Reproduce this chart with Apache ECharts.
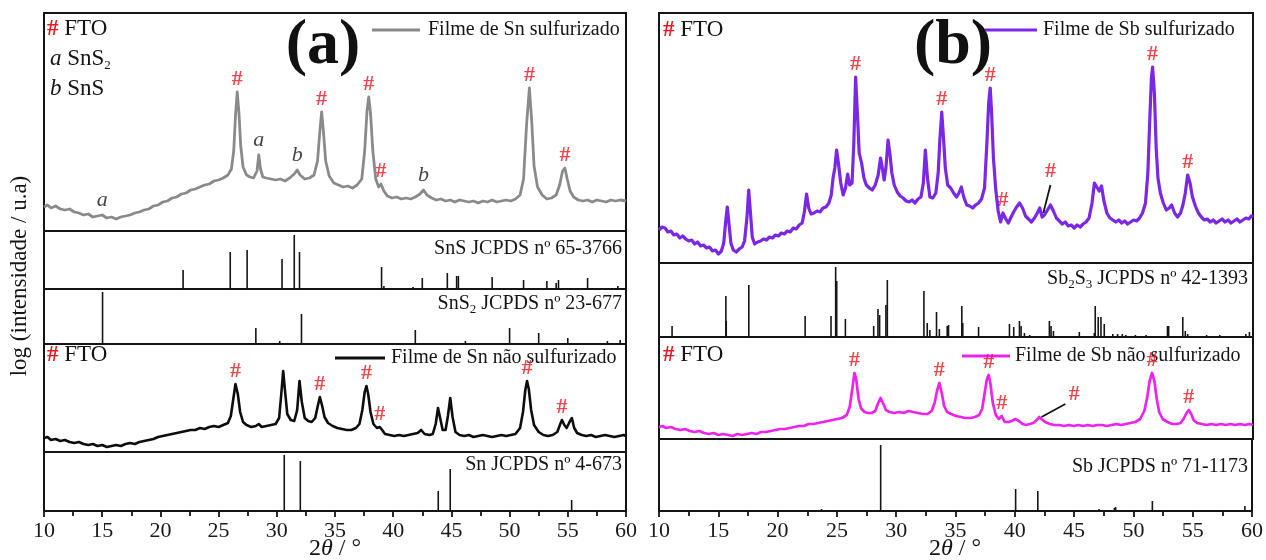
<!DOCTYPE html>
<html>
<head>
<meta charset="utf-8">
<title>DRX filmes Sn / Sb</title>
<script src="https://cdn.jsdelivr.net/npm/echarts@6/dist/echarts.min.js"></script>
<style>html,body{margin:0;padding:0;background:#fff}#main{width:1266px;height:560px}</style>
</head>
<body>
<div id="main"></div>
<script>
// ---- data: [2theta, intensity (a.u.)] ----
var snSulf = [[10,24],[10.3,26],[10.6,23],[11,25],[11.4,22],[11.8,21],[12.2,22],[12.6,19],[13,18],[13.4,16],[13.8,17],[14.2,14],[14.6,15],[15,16],[15.4,13],[15.8,14],[16.2,12],[16.6,14],[17,15],[17.4,16],[17.8,18],[18.2,19],[18.6,21],[19,22],[19.4,25],[19.8,26],[20.2,29],[20.6,30],[21,33],[21.4,34],[21.8,37],[22.2,38],[22.6,41],[23,42],[23.4,44],[23.8,46],[24.2,47],[24.6,50],[25,51],[25.4,53],[25.8,56],[26.1,62],[26.3,80],[26.45,115],[26.6,139],[26.75,118],[26.9,85],[27.1,64],[27.4,56],[27.7,54],[28,53],[28.3,60],[28.45,76],[28.6,62],[28.8,54],[29.1,53],[29.5,52],[29.9,51],[30.3,52],[30.7,50],[31.1,53],[31.5,57],[31.75,61],[32,56],[32.4,52],[32.8,53],[33.2,56],[33.5,70],[33.7,100],[33.85,119],[34,100],[34.2,70],[34.5,55],[34.9,48],[35.3,46],[35.7,44],[36.1,45],[36.5,43],[36.9,46],[37.3,52],[37.55,80],[37.75,120],[37.9,134],[38.05,118],[38.25,80],[38.5,52],[38.75,44],[38.95,47],[39.2,40],[39.5,35],[39.9,33],[40.3,34],[40.7,32],[41.1,33],[41.5,32],[41.9,34],[42.3,37],[42.6,41],[42.9,36],[43.3,33],[43.7,31],[44.1,32],[44.5,30],[44.9,31],[45.3,29],[45.7,31],[46.1,30],[46.5,29],[46.9,30],[47.3,28],[47.7,30],[48.1,29],[48.5,31],[48.9,29],[49.3,30],[49.7,31],[50.1,30],[50.5,32],[50.9,36],[51.2,52],[51.45,105],[51.7,143],[51.9,110],[52.1,65],[52.4,44],[52.8,36],[53.2,32],[53.6,33],[54,36],[54.3,46],[54.55,60],[54.75,63],[54.95,52],[55.2,40],[55.5,34],[55.9,31],[56.3,30],[56.7,31],[57.1,29],[57.5,31],[57.9,30],[58.3,29],[58.7,31],[59.1,30],[59.5,31],[60,30]];

var snNaoSulf = [[10,14],[10.3,15],[10.6,12],[11,13],[11.4,11],[11.8,12],[12.2,10],[12.6,9],[13,10],[13.4,8],[13.8,7],[14.2,8],[14.6,6],[15,7],[15.4,5],[15.8,6],[16.2,7],[16.6,6],[17,8],[17.4,9],[17.8,8],[18.2,10],[18.6,11],[19,12],[19.4,13],[19.8,15],[20.2,16],[20.6,17],[21,18],[21.4,19],[21.8,20],[22.2,21],[22.6,22],[23,22],[23.4,24],[23.8,23],[24.2,25],[24.6,26],[25,25],[25.4,27],[25.8,29],[26.05,36],[26.25,52],[26.45,68],[26.65,58],[26.85,40],[27.1,30],[27.4,27],[27.8,25],[28.2,26],[28.45,28],[28.7,25],[29.1,26],[29.5,27],[29.9,28],[30.2,34],[30.4,60],[30.55,81],[30.7,62],[30.9,38],[31.2,32],[31.5,31],[31.75,42],[31.95,71],[32.15,50],[32.4,34],[32.7,31],[33,30],[33.3,34],[33.5,45],[33.7,55],[33.9,46],[34.1,35],[34.4,29],[34.8,26],[35.2,24],[35.6,23],[36,22],[36.4,22],[36.8,24],[37.1,28],[37.35,42],[37.55,60],[37.7,66],[37.85,58],[38.05,40],[38.3,28],[38.6,24],[38.85,25],[39.05,22],[39.3,18],[39.7,17],[40.1,16],[40.5,17],[40.9,16],[41.3,17],[41.7,18],[42.1,19],[42.4,22],[42.7,18],[43.1,17],[43.4,18],[43.65,28],[43.85,44],[44.05,33],[44.25,22],[44.5,22],[44.7,36],[44.9,54],[45.1,35],[45.35,20],[45.7,17],[46.1,16],[46.5,17],[46.9,15],[47.3,16],[47.7,17],[48.1,16],[48.5,15],[48.9,16],[49.3,17],[49.7,16],[50.1,17],[50.5,18],[50.9,24],[51.15,40],[51.35,62],[51.5,71],[51.65,63],[51.85,42],[52.1,27],[52.5,20],[52.9,17],[53.3,16],[53.7,17],[54.1,20],[54.35,28],[54.5,32],[54.7,27],[54.9,24],[55.15,30],[55.35,34],[55.55,24],[55.8,19],[56.2,17],[56.6,16],[57,17],[57.4,15],[57.8,16],[58.2,17],[58.6,16],[59,15],[59.4,16],[59.8,17],[60,16]];

var sbSulf = [[10,33],[10.25,36],[10.5,35],[10.75,31],[11,32],[11.25,28],[11.5,29],[11.75,25],[12,27],[12.25,24],[12.5,22],[12.75,23],[13,19],[13.25,21],[13.5,17],[13.75,18],[14,15],[14.25,16],[14.5,12],[14.75,13],[15,9],[15.25,12],[15.45,20],[15.6,40],[15.75,56],[15.9,38],[16.05,20],[16.25,13],[16.5,11],[16.75,14],[17,16],[17.2,22],[17.4,45],[17.55,73],[17.7,50],[17.85,26],[18.05,19],[18.3,21],[18.55,22],[18.8,24],[19.05,23],[19.3,26],[19.55,25],[19.8,28],[20.05,27],[20.3,30],[20.55,29],[20.8,32],[21.05,31],[21.3,35],[21.55,34],[21.8,38],[22.05,40],[22.25,52],[22.42,69],[22.6,55],[22.8,49],[23.05,50],[23.3,52],[23.55,51],[23.8,55],[24.05,56],[24.3,60],[24.5,68],[24.65,85],[24.8,95],[24.95,113],[25.1,100],[25.3,80],[25.5,68],[25.7,75],[25.88,89],[26.05,78],[26.25,80],[26.4,120],[26.55,186],[26.7,150],[26.85,110],[27.05,100],[27.25,85],[27.45,78],[27.7,75],[27.95,73],[28.2,78],[28.45,88],[28.65,105],[28.8,95],[28.95,83],[29.1,95],[29.28,123],[29.45,108],[29.6,90],[29.8,78],[30.05,71],[30.3,67],[30.55,65],[30.8,62],[31.05,61],[31.3,63],[31.55,60],[31.8,64],[32.05,66],[32.25,80],[32.42,113],[32.6,85],[32.8,66],[33.05,65],[33.3,70],[33.5,90],[33.65,125],[33.8,151],[33.95,125],[34.1,95],[34.3,78],[34.55,75],[34.8,70],[35.05,66],[35.25,70],[35.45,76],[35.65,66],[35.9,58],[36.15,57],[36.4,55],[36.65,58],[36.9,60],[37.15,64],[37.4,75],[37.6,120],[37.75,160],[37.88,175],[38,150],[38.15,105],[38.35,73],[38.55,52],[38.75,41],[38.95,50],[39.15,45],[39.4,40],[39.6,45],[39.85,51],[40.1,56],[40.35,60],[40.6,55],[40.85,47],[41.1,44],[41.35,41],[41.6,45],[41.85,50],[42.05,55],[42.25,46],[42.45,48],[42.7,53],[42.95,58],[43.2,52],[43.45,45],[43.7,42],[43.95,39],[44.2,41],[44.45,37],[44.7,38],[44.95,35],[45.2,38],[45.45,36],[45.7,39],[45.95,41],[46.2,45],[46.45,60],[46.65,80],[46.85,76],[47.05,72],[47.25,77],[47.45,62],[47.7,50],[47.95,45],[48.2,43],[48.45,41],[48.7,43],[48.95,40],[49.2,42],[49.45,39],[49.7,41],[49.95,43],[50.2,42],[50.45,45],[50.7,50],[50.95,60],[51.15,90],[51.3,140],[51.45,185],[51.55,196],[51.7,170],[51.85,115],[52,85],[52.2,70],[52.45,60],[52.7,53],[52.95,55],[53.15,58],[53.4,50],[53.65,46],[53.9,50],[54.1,58],[54.3,70],[54.5,88],[54.7,80],[54.9,66],[55.15,57],[55.4,50],[55.65,46],[55.9,43],[56.15,44],[56.4,41],[56.65,43],[56.9,40],[57.15,42],[57.4,44],[57.65,41],[57.9,43],[58.15,40],[58.4,42],[58.65,44],[58.9,41],[59.15,43],[59.4,45],[59.65,44],[59.85,47],[60,46]];

var sbNaoSulf = [[10,12],[10.3,13],[10.6,11],[11,12],[11.4,10],[11.8,9],[12.2,10],[12.6,8],[13,7],[13.4,8],[13.8,6],[14.2,5],[14.6,6],[15,4],[15.4,5],[15.8,4],[16.2,3],[16.6,5],[17,4],[17.4,5],[17.8,6],[18.2,5],[18.6,7],[19,7],[19.4,8],[19.8,9],[20.2,10],[20.6,10],[21,11],[21.4,12],[21.8,13],[22.2,13],[22.6,15],[23,15],[23.4,16],[23.8,17],[24.2,18],[24.6,19],[25,20],[25.4,21],[25.8,24],[26.05,32],[26.25,48],[26.45,66],[26.6,60],[26.8,40],[27,31],[27.3,27],[27.6,26],[27.9,26],[28.2,28],[28.45,36],[28.65,41],[28.85,36],[29.1,29],[29.4,27],[29.8,26],[30.2,27],[30.6,26],[31,28],[31.4,27],[31.8,26],[32.2,25],[32.6,25],[32.95,28],[33.2,36],[33.4,48],[33.6,56],[33.8,46],[34,33],[34.25,27],[34.6,25],[35,23],[35.4,22],[35.8,21],[36.2,21],[36.6,22],[36.95,24],[37.2,30],[37.4,45],[37.6,60],[37.75,64],[37.9,55],[38.1,36],[38.35,24],[38.6,20],[38.85,23],[39.1,17],[39.4,17],[39.7,18],[40,20],[40.3,18],[40.6,15],[40.9,14],[41.2,15],[41.5,16],[41.8,19],[42,22],[42.2,20],[42.5,17],[42.9,15],[43.3,14],[43.7,14],[44.1,13],[44.5,14],[44.9,13],[45.3,14],[45.7,13],[46.1,14],[46.5,13],[46.9,14],[47.3,14],[47.7,13],[48.1,14],[48.5,15],[48.9,14],[49.3,15],[49.7,16],[50.1,17],[50.5,20],[50.85,28],[51.1,42],[51.3,58],[51.5,66],[51.7,58],[51.9,40],[52.1,27],[52.4,20],[52.8,17],[53.2,15],[53.6,15],[53.9,16],[54.15,20],[54.4,26],[54.6,29],[54.8,25],[55,19],[55.3,16],[55.7,15],[56.1,14],[56.5,15],[56.9,14],[57.3,15],[57.7,14],[58.1,15],[58.5,14],[58.9,15],[59.3,14],[59.7,15],[60,14]];

// JCPDS reference sticks
var snsAng = [21.95,26.0,27.45,30.45,31.5,31.95,39.0,39.2,41.7,42.5,44.65,45.45,45.6,48.5,51.2,53.2,54.0,54.2,56.7,59.3];
var snsInt = [19,37,39,30,54,37,22,3,2,11,16,13,13,12,9,8,6,9,11,3];
var sns2Ang = [15.03,28.2,30.25,32.12,41.9,46.2,50.0,52.5,55.0,58.4,59.5];
var sns2Int = [52,16,3,30,14,3,16,11,6,3,4];
var snAng = [30.64,32.02,43.87,44.9,55.33];
var snInt = [56,50,20,42,11];
var sb2s3Ang = [11.1,15.63,15.66,17.56,22.3,24.48,24.87,24.96,25.69,28.07,28.43,28.57,29.1,29.22,32.3,32.58,32.8,33.36,33.6,34.26,34.37,35.49,35.57,36.9,39.5,39.86,40.34,40.48,40.76,41.2,42.86,43.0,43.2,45.38,46.64,46.72,46.97,47.2,47.48,48.2,48.6,49.0,49.3,50.1,51.0,52.8,52.9,54.09,54.3,54.5,56.1,57.2,58.9,59.4,59.7];
var sb2s3Int = [11,41,16,52,21,21,70,56,18,11,28,22,32,57,46,14,7,25,8,11,12,31,14,10,13,10,16,11,4,2,16,11,6,5,4,31,20,20,13,3,3,3,2,2,2,11,11,20,6,3,2,2,1,3,5];
var sbAng = [23.7,28.69,40.07,41.94,47.1,48.4,48.5,51.6,59.4];
var sbInt = [2,66,22,20,2,3,4,10,5];

// peak markers
var ftoSnSulf = [26.6,33.85,37.9,38.95,51.7,54.75];
var ftoSnNao = [26.45,33.7,37.7,38.85,51.5,54.5];
var ftoSbSulf = [26.55,33.8,37.88,38.95,51.55,54.5];
var ftoSbNao = [26.45,33.6,37.75,38.85,51.5,54.6];
var fasePeaks = [15,28.45,31.75,42.6];
var faseNames = ['a','a','b','b'];

var myChart = echarts.init(document.getElementById('main'));
var FONT = 'Liberation Serif';
var RED = '#e8191f';

// panel layout (pixels)
var boxes = [
  {left:44, top:13, width:582, height:218},
  {left:44, top:231, width:582, height:58},
  {left:44, top:289, width:582, height:55},
  {left:44, top:344, width:582, height:108},
  {left:44, top:452, width:582, height:59},
  {left:659, top:13, width:594, height:250},
  {left:659, top:263, width:594, height:74},
  {left:659, top:337, width:594, height:102},
  {left:659, top:439, width:594, height:72}
];
var bottoms = [4, 8];

var grids = [], xAxes = [], yAxes = [];
boxes.forEach(function (b, i) {
  grids.push({left:b.left, top:b.top, width:b.width, height:b.height, show:true,
    borderColor:'#151515', borderWidth:2, backgroundColor:'transparent'});
  var isBottom = bottoms.indexOf(i) >= 0;
  xAxes.push({
    type:'value', gridIndex:i, min:10, max:60, interval:5, show:isBottom,
    axisLine:{show:true, onZero:false, lineStyle:{color:'#151515', width:2}},
    axisTick:{show:true, inside:false, length:6, lineStyle:{color:'#151515', width:1.8}},
    minorTick:{show:true, splitNumber:2, length:5, lineStyle:{color:'#151515', width:1.8}},
    axisLabel:{show:true, fontSize:22, fontFamily:FONT, color:'#1a1a1a', margin:9},
    splitLine:{show:false}
  });
  yAxes.push({type:'value', gridIndex:i, min:0, max:b.height, show:false, splitLine:{show:false}});
});

function curve(i, data, color, w) {
  return {type:'line', xAxisIndex:i, yAxisIndex:i, data:data, symbol:'none',
    lineStyle:{color:color, width:w, join:'round'}, silent:true};
}
function sticks(i, ang, inten) {
  return {type:'bar', xAxisIndex:i, yAxisIndex:i, barWidth:1.6, silent:true,
    itemStyle:{color:'#151515'},
    data:ang.map(function (a, k) { return [a, inten[k]]; })};
}
function peakValue(data, x) {
  var m = 0;
  data.forEach(function (p) { if (Math.abs(p[0] - x) <= 0.2 && p[1] > m) m = p[1]; });
  return m;
}
function marks(i, data, xs, texts, style) {
  return {type:'scatter', xAxisIndex:i, yAxisIndex:i, symbolSize:1, silent:true,
    itemStyle:{color:'rgba(0,0,0,0)'},
    data:xs.map(function (x, k) {
      return {value:[x, peakValue(data, x)], label:{formatter:texts ? texts[k] : '#'}};
    }),
    label:Object.assign({show:true, position:'top', distance:1, fontSize:22,
      fontWeight:'bold', fontFamily:FONT, color:RED}, style || {})};
}
function arrowMark(i, data, x, dx, dy, lblOffset) {
  var v = peakValue(data, x);
  return {type:'scatter', xAxisIndex:i, yAxisIndex:i, symbolSize:1, silent:true,
    itemStyle:{color:'rgba(0,0,0,0)'},
    data:[[x + dx, v + dy]],
    label:{show:true, formatter:'#', position:'top', distance:2, offset:lblOffset,
      fontSize:22, fontWeight:'bold', fontFamily:FONT, color:RED},
    markLine:{silent:true, symbol:['none','arrow'], symbolSize:[0,10], animation:false,
      lineStyle:{color:'#151515', width:1.8, type:'solid'}, label:{show:false},
      data:[[{coord:[x + dx, v + dy]}, {coord:[x, v + 2]}]]}};
}

var series = [
  curve(0, snSulf, '#8a8a8a', 2.8),
  marks(0, snSulf, ftoSnSulf),
  marks(0, snSulf, fasePeaks, faseNames, {color:'#151515', fontStyle:'italic', fontWeight:'normal', distance:3}),
  sticks(1, snsAng, snsInt),
  sticks(2, sns2Ang, sns2Int),
  curve(3, snNaoSulf, '#0d0d0d', 2.6),
  marks(3, snNaoSulf, ftoSnNao),
  sticks(4, snAng, snInt),
  curve(5, sbSulf, '#7a28e6', 3.2),
  marks(5, sbSulf, ftoSbSulf),
  arrowMark(5, sbSulf, 42.35, 0.6, 30, [0, 0]),
  sticks(6, sb2s3Ang, sb2s3Int),
  curve(7, sbNaoSulf, '#ee22ee', 2.7),
  marks(7, sbNaoSulf, ftoSbNao),
  arrowMark(7, sbNaoSulf, 42.2, 2.0, 15, [9, 4]),
  sticks(8, sbAng, sbInt)
];

var RICH = {
  r:{fontFamily:FONT, fontSize:23, fill:RED, fontWeight:'bold', lineHeight:26},
  n:{fontFamily:FONT, fontSize:23, fill:'#151515', lineHeight:26},
  i:{fontFamily:FONT, fontSize:23, fill:'#151515', fontStyle:'italic', lineHeight:26},
  m:{fontFamily:FONT, fontSize:20, fill:'#151515', lineHeight:24},
  s:{fontFamily:FONT, fontSize:13, fill:'#151515', lineHeight:13, verticalAlign:'bottom'},
  x:{fontFamily:FONT, fontSize:24, fill:'#151515', lineHeight:28},
  xi:{fontFamily:FONT, fontSize:24, fill:'#151515', fontStyle:'italic', lineHeight:28}
};
function txt(x, y, text, align) {
  return {type:'text', x:x, y:y, silent:true,
    style:{text:text, rich:RICH, align:align || 'left', verticalAlign:'middle', fontFamily:FONT}};
}
function legendLine(x1, x2, y, color, w) {
  return {type:'line', silent:true, shape:{x1:x1, y1:y, x2:x2, y2:y}, style:{stroke:color, lineWidth:w}};
}
function bigLabel(x, y, text) {
  return {type:'text', x:x, y:y, silent:true,
    style:{text:text, font:'bold 64px "Liberation Serif"', fill:'#111', align:'center', verticalAlign:'middle'}};
}

var graphics = [
  txt(47, 29, '{r|#}{n| FTO}'),
  txt(50, 59, '{i|a}{n| SnS}{s|2}'),
  txt(50, 89, '{i|b}{n| SnS}'),
  bigLabel(323, 46, '(a)'),
  legendLine(372, 420, 30, '#8a8a8a', 2.8),
  txt(428, 30, '{m|Filme de Sn sulfurizado}'),
  txt(622, 249, '{m|SnS JCPDS nº 65-3766}', 'right'),
  txt(622, 304, '{m|SnS}{s|2}{m| JCPDS nº 23-677}', 'right'),
  txt(47, 355, '{r|#}{n| FTO}'),
  legendLine(335, 385, 358, '#0d0d0d', 3),
  txt(391, 358, '{m|Filme de Sn não sulfurizado}'),
  txt(622, 465, '{m|Sn JCPDS nº 4-673}', 'right'),
  txt(335, 549, '{x|2}{xi|θ}{x| / °}', 'center'),

  txt(663, 30, '{r|#}{n| FTO}'),
  bigLabel(953, 46, '(b)'),
  legendLine(985, 1037, 30, '#7a28e6', 3),
  txt(1043, 30, '{m|Filme de Sb sulfurizado}'),
  txt(1248, 279, '{m|Sb}{s|2}{m|S}{s|3}{m| JCPDS nº 42-1393}', 'right'),
  txt(663, 355, '{r|#}{n| FTO}'),
  legendLine(962, 1010, 356, '#ee22ee', 2.8),
  txt(1015, 356, '{m|Filme de Sb não sulfurizado}'),
  txt(1248, 467, '{m|Sb JCPDS nº 71-1173}', 'right'),
  txt(955, 549, '{x|2}{xi|θ}{x| / °}', 'center'),

  {type:'text', x:20, y:276, rotation:Math.PI / 2, silent:true,
    style:{text:'log (intensidade / u.a)', fontFamily:FONT, fontSize:23, fill:'#151515',
      align:'center', verticalAlign:'middle'}}
];

myChart.setOption({
  animation:false,
  backgroundColor:'#fff',
  grid:grids,
  xAxis:xAxes,
  yAxis:yAxes,
  series:series,
  graphic:graphics
});
</script>
</body>
</html>
